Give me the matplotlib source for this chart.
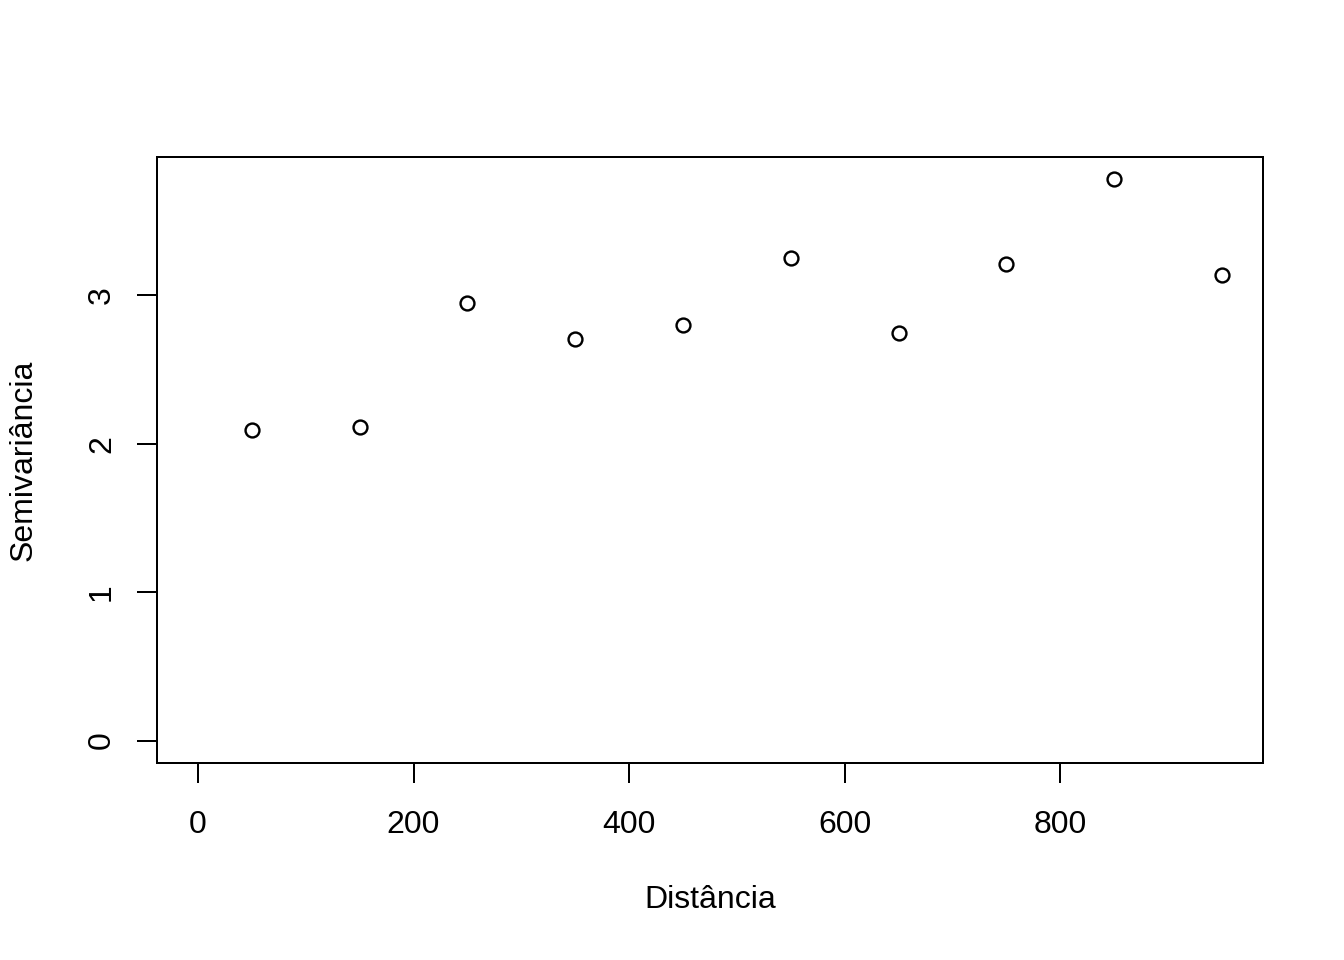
import matplotlib
matplotlib.use("Agg")
import matplotlib.pyplot as plt

plt.rcParams["font.family"] = ["Liberation Sans", "DejaVu Sans"]

distancia = [50, 150, 250, 350, 450, 550, 650, 750, 850, 950]
semivariancia = [2.091, 2.112, 2.946, 2.703, 2.798, 3.248, 2.744, 3.208, 3.779, 3.134]
x_ticks = [0, 200, 400, 600, 800]
y_ticks = [0, 1, 2, 3]

fig = plt.figure(figsize=(7, 5), dpi=192)
ax = fig.add_axes([157 / 1344, 1 - 763 / 960, (1263 - 157) / 1344, (763 - 157) / 960])

ax.plot(distancia, semivariancia, "o", mfc="none", mec="black", ms=5.2, mew=0.9)

# limits like R: range 0..max, extended by 4%
xr = max(distancia) - 0
ax.set_xlim(0 - 0.04 * xr, max(distancia) + 0.04 * xr)
yr = max(semivariancia) - 0
ax.set_ylim(0 - 0.04 * yr, max(semivariancia) + 0.04 * yr)

ax.set_xticks(x_ticks)
ax.set_yticks(y_ticks)
ax.set_yticklabels([str(v) for v in y_ticks], rotation=90, va="center")
ax.tick_params(direction="out", length=7.5, width=0.75, labelsize=12, color="black")
ax.tick_params(axis="x", pad=10)
ax.tick_params(axis="y", pad=7.5)
for s in ax.spines.values():
    s.set_linewidth(0.75)

ax.set_xlabel("Distância", fontsize=12, va="center")
ax.set_ylabel("Semivariância", fontsize=12, va="center")
ax.xaxis.set_label_coords(0.5, (763 - 900) / 606)
ax.yaxis.set_label_coords((24 - 157) / 1106, 0.5)

fig.savefig("out.png", dpi=192)
